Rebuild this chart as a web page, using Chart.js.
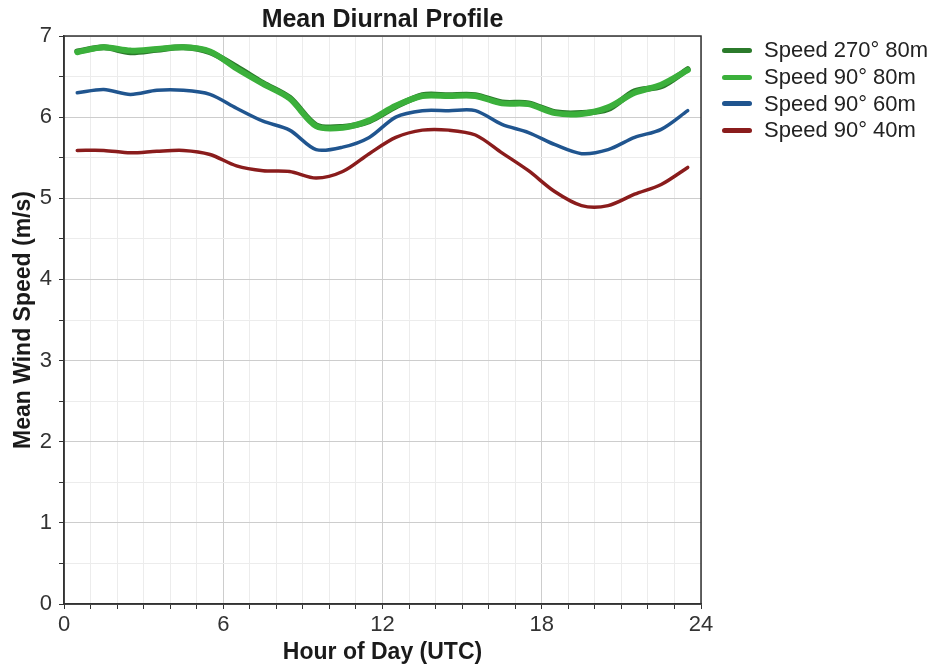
<!DOCTYPE html>
<html>
<head>
<meta charset="utf-8">
<script src="https://cdn.jsdelivr.net/npm/chart.js@4.4.1/dist/chart.umd.min.js"></script>
<style>
  html, body { margin: 0; padding: 0; background: #fff; }
  #wrap { position: relative; width: 939px; height: 668px; }
  #legend { position: absolute; left: 722px; top: 37px; font-family: "Liberation Sans", Arial, sans-serif; font-size: 22px; color: #222; }
  #legend .row { height: 26.7px; display: flex; align-items: center; white-space: nowrap; }
  #legend .swatch { width: 30px; height: 5px; border-radius: 3px; margin-right: 12px; }
</style>
</head>
<body>
<div id="wrap">
  <canvas id="diurnal" width="939" height="668"></canvas>
  <div id="legend"></div>
</div>
<script>
// hour of day (bin centres)
const hours = [0.5, 1.5, 2.5, 3.5, 4.5, 5.5, 6.5, 7.5, 8.5, 9.5, 10.5, 11.5,
               12.5, 13.5, 14.5, 15.5, 16.5, 17.5, 18.5, 19.5, 20.5, 21.5, 22.5, 23.5];

const seriesNames = ['Speed 270° 80m', 'Speed 90° 80m', 'Speed 90° 60m', 'Speed 90° 40m'];

const speed270_80 = [6.81, 6.86, 6.80, 6.83, 6.86, 6.80, 6.62, 6.42, 6.24, 5.90, 5.88, 5.95,
                     6.13, 6.27, 6.27, 6.27, 6.18, 6.17, 6.06, 6.05, 6.10, 6.32, 6.38, 6.59];
const speed90_80  = [6.80, 6.86, 6.82, 6.84, 6.86, 6.81, 6.60, 6.41, 6.23, 5.89, 5.87, 5.96,
                     6.14, 6.26, 6.26, 6.26, 6.17, 6.16, 6.05, 6.04, 6.12, 6.30, 6.40, 6.58];
const speed90_60  = [6.30, 6.34, 6.28, 6.33, 6.33, 6.28, 6.11, 5.95, 5.84, 5.60, 5.63, 5.75,
                     6.00, 6.08, 6.08, 6.08, 5.91, 5.81, 5.66, 5.55, 5.60, 5.75, 5.85, 6.08];
const speed90_40  = [5.59, 5.59, 5.56, 5.58, 5.59, 5.54, 5.40, 5.34, 5.33, 5.25, 5.33, 5.55,
                     5.75, 5.84, 5.84, 5.78, 5.56, 5.34, 5.08, 4.91, 4.91, 5.05, 5.17, 5.38];

const xTicks = [0, 6, 12, 18, 24];
const yTicks = [0, 1, 2, 3, 4, 5, 6, 7];

const seriesValues = [speed270_80, speed90_80, speed90_60, speed90_40];
const colors = ['#2b7a2b', '#3bb03b', '#20558f', '#8a1c1c'];
const widths = [6, 6, 3.5, 3.5];
const drawOrder = [1, 0, 2, 3];

const FONT = '"Liberation Sans", Arial, sans-serif';

const datasets = seriesValues.map((vals, i) => ({
  label: seriesNames[i],
  data: vals.map((v, k) => ({ x: hours[k], y: v })),
  borderColor: colors[i],
  backgroundColor: colors[i],
  borderWidth: widths[i],
  borderJoinStyle: 'round',
  borderCapStyle: 'round',
  pointRadius: 0,
  tension: 0.3,
  order: drawOrder[i]
}));

// frame around the plot
const framePlugin = {
  id: 'frame',
  afterDraw(chart) {
    const a = chart.chartArea, ctx = chart.ctx;
    ctx.save();
    ctx.strokeStyle = '#333';
    ctx.lineWidth = 1.5;
    ctx.strokeRect(a.left, a.top, a.right - a.left, a.bottom - a.top);
    ctx.restore();
  }
};

new Chart(document.getElementById('diurnal'), {
  type: 'line',
  data: { datasets: datasets },
  options: {
    responsive: false,
    animation: false,
    layout: { padding: { left: 0, right: 238, top: 0, bottom: 0 } },
    plugins: {
      legend: { display: false },
      tooltip: { enabled: false },
      title: {
        display: true,
        text: 'Mean Diurnal Profile',
        fullSize: false,
        color: '#1a1a1a',
        font: { family: FONT, size: 25, weight: 'bold' },
        padding: { top: 5, bottom: 1 }
      }
    },
    scales: {
      x: {
        type: 'linear',
        min: 0, max: 24,
        afterFit: s => { s.height = 64; },
        afterBuildTicks: s => {
          const t = [];
          for (let h = 0; h <= 24; h++) t.push({ value: h });
          s.ticks = t;
        },
        ticks: {
          autoSkip: false, maxRotation: 0, padding: 3,
          color: '#333',
          font: { family: FONT, size: 22 },
          callback: v => xTicks.includes(v) ? String(v) : ''
        },
        grid: {
          color: c => xTicks.includes(c.tick.value) ? '#cdcdcd' : '#ececec',
          tickColor: '#333',
          tickLength: 5,
          lineWidth: 1
        },
        border: { display: true, color: '#333', width: 1.5 },
        title: {
          display: true, text: 'Hour of Day (UTC)', color: '#1a1a1a',
          font: { family: FONT, size: 23, weight: 'bold' },
          padding: { top: 0, bottom: 2 }
        }
      },
      y: {
        min: 0, max: 7,
        afterFit: s => { s.width = 64; },
        afterBuildTicks: s => {
          const t = [];
          for (let v = 0; v <= 14; v++) t.push({ value: v / 2 });
          s.ticks = t;
        },
        ticks: {
          autoSkip: false, padding: 7,
          color: '#333',
          font: { family: FONT, size: 22 },
          callback: v => yTicks.includes(v) ? String(v) : ''
        },
        grid: {
          color: c => yTicks.includes(c.tick.value) ? '#cdcdcd' : '#ececec',
          tickColor: '#333',
          tickLength: 5,
          lineWidth: 1
        },
        border: { display: true, color: '#333', width: 1.5 },
        title: {
          display: true, text: 'Mean Wind Speed (m/s)', color: '#1a1a1a',
          font: { family: FONT, size: 23, weight: 'bold' },
          padding: { top: 10, bottom: 0 }
        }
      }
    }
  },
  plugins: [framePlugin]
});

// legend
const legendEl = document.getElementById('legend');
seriesNames.forEach((name, i) => {
  const row = document.createElement('div');
  row.className = 'row';
  row.innerHTML = '<span class="swatch" style="background:' + colors[i] + '"></span><span>' + name + '</span>';
  legendEl.appendChild(row);
});
</script>
</body>
</html>
